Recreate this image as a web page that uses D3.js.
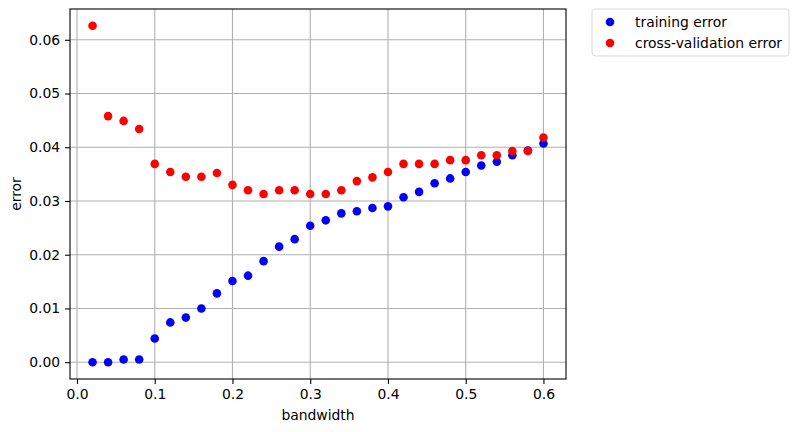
<!DOCTYPE html>
<html>
<head>
<meta charset="utf-8">
<script src="https://cdn.jsdelivr.net/npm/d3@7"></script>
<style>
  body { margin: 0; background: #fff; }
  text { font-family: "DejaVu Sans", sans-serif; }
</style>
</head>
<body>
<div id="chart"></div>
<script>
// bandwidth values (x) and the two error series
const bandwidth = [0.02, 0.04, 0.06, 0.08, 0.10, 0.12, 0.14, 0.16, 0.18, 0.20,
  0.22, 0.24, 0.26, 0.28, 0.30, 0.32, 0.34, 0.36, 0.38, 0.40,
  0.42, 0.44, 0.46, 0.48, 0.50, 0.52, 0.54, 0.56, 0.58, 0.60];
const trainingError = [0.0000, 0.0000, 0.0005, 0.0005, 0.0044, 0.0074, 0.0083, 0.0100, 0.0128, 0.0151,
  0.0161, 0.0188, 0.0215, 0.0229, 0.0254, 0.0264, 0.0277, 0.0281, 0.0287, 0.0290,
  0.0307, 0.0317, 0.0333, 0.0342, 0.0354, 0.0366, 0.0373, 0.0385, 0.0394, 0.0407];
const cvError = [0.0626, 0.0458, 0.0449, 0.0434, 0.0369, 0.0354, 0.0345, 0.0345, 0.0352, 0.0330,
  0.0320, 0.0313, 0.0320, 0.0320, 0.0313, 0.0313, 0.0320, 0.0337, 0.0344, 0.0354,
  0.0369, 0.0369, 0.0369, 0.0376, 0.0376, 0.0385, 0.0385, 0.0393, 0.0393, 0.0418];
const xTicks = [0.0, 0.1, 0.2, 0.3, 0.4, 0.5, 0.6];
const yTicks = [0.00, 0.01, 0.02, 0.03, 0.04, 0.05, 0.06];
const seriesNames = ["training error", "cross-validation error"];
const seriesColors = ["#0000ff", "#ff0000"];

var W = 799, H = 432;
var margin = { top: 9, right: 233, bottom: 53, left: 70 },
  width = W - margin.left - margin.right,
  height = H - margin.top - margin.bottom;

var svg = d3.select("#chart")
  .append("svg")
  .attr("width", W)
  .attr("height", H);

var g = svg.append("g")
  .attr("transform", "translate(" + margin.left + "," + margin.top + ")");

// matplotlib-style 5% margins around the data
var xMin = d3.min(bandwidth), xMax = d3.max(bandwidth);
var xPad = (xMax - xMin) * 0.05;
var x = d3.scaleLinear().domain([xMin - xPad, xMax + xPad]).range([0, width]);

var yMin = d3.min(trainingError.concat(cvError)), yMax = d3.max(trainingError.concat(cvError));
var yPad = (yMax - yMin) * 0.05;
var y = d3.scaleLinear().domain([yMin - yPad, yMax + yPad]).range([height, 0]);

// grid
g.append("g")
  .selectAll("line.gx")
  .data(xTicks)
  .join("line")
  .attr("x1", d => x(d)).attr("x2", d => x(d))
  .attr("y1", 0).attr("y2", height)
  .attr("stroke", "#b0b0b0").attr("stroke-width", 1.1);
g.append("g")
  .selectAll("line.gy")
  .data(yTicks)
  .join("line")
  .attr("x1", 0).attr("x2", width)
  .attr("y1", d => y(d)).attr("y2", d => y(d))
  .attr("stroke", "#b0b0b0").attr("stroke-width", 1.1);

// axes
var xAxis = g.append("g")
  .attr("transform", "translate(0," + height + ")")
  .call(d3.axisBottom(x).tickValues(xTicks).tickFormat(d3.format(".1f")).tickSize(4.9).tickPadding(4.9));
var yAxis = g.append("g")
  .call(d3.axisLeft(y).tickValues(yTicks).tickFormat(d3.format(".2f")).tickSize(4.9).tickPadding(4.9));

[xAxis, yAxis].forEach(a => {
  a.select(".domain").remove();
  a.selectAll(".tick line").attr("stroke", "#000").attr("stroke-width", 1.1);
  a.selectAll(".tick text").attr("font-size", "13.9px").attr("fill", "#000")
    .style("font-family", "'DejaVu Sans', sans-serif");
});

// frame
g.append("rect")
  .attr("x", 0).attr("y", 0)
  .attr("width", width).attr("height", height)
  .attr("fill", "none").attr("stroke", "#000").attr("stroke-width", 1.1);

// points
var series = [trainingError, cvError];
series.forEach((vals, i) => {
  g.append("g")
    .selectAll("circle")
    .data(vals)
    .join("circle")
    .attr("cx", (d, j) => x(bandwidth[j]))
    .attr("cy", d => y(d))
    .attr("r", 4.3)
    .attr("fill", seriesColors[i]);
});

// axis labels
svg.append("text")
  .attr("x", margin.left + width / 2)
  .attr("y", H - 12)
  .attr("text-anchor", "middle")
  .attr("font-size", "13.9px")
  .text("bandwidth");
svg.append("text")
  .attr("transform", "translate(21," + (margin.top + height / 2) + ") rotate(-90)")
  .attr("text-anchor", "middle")
  .attr("font-size", "13.9px")
  .text("error");

// legend outside the axes
var legend = svg.append("g").attr("transform", "translate(592,9)");
legend.append("rect")
  .attr("x", 0).attr("y", 0)
  .attr("width", 197).attr("height", 47)
  .attr("rx", 3)
  .attr("fill", "#fff").attr("stroke", "#d9d9d9").attr("stroke-width", 1);
seriesNames.forEach((name, i) => {
  var row = legend.append("g").attr("transform", "translate(0," + (13 + i * 21) + ")");
  row.append("circle").attr("cx", 18).attr("cy", 0).attr("r", 4.3).attr("fill", seriesColors[i]);
  row.append("text")
    .attr("x", 43).attr("y", 5)
    .attr("font-size", "13.9px")
    .text(name);
});
</script>
</body>
</html>
